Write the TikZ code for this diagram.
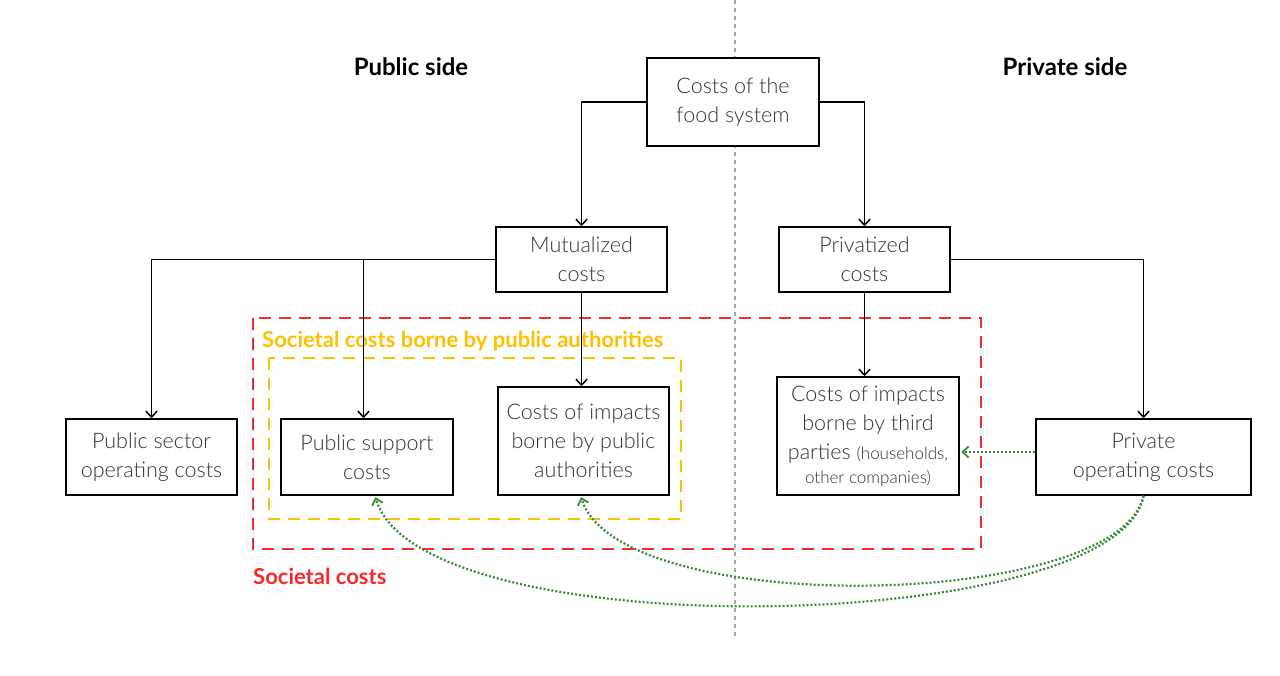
\documentclass[tikz,border=0pt]{standalone}
\usepackage{fontspec}
\setmainfont{Lato}[UprightFont={* Light},BoldFont={* Bold}]
\usetikzlibrary{arrows.meta}
\definecolor{txtgray}{HTML}{333333}
\definecolor{redd}{HTML}{F52A2A}
\definecolor{yell}{HTML}{FFC000}
\definecolor{grn}{HTML}{3A8A3A}
\begin{document}
\begin{tikzpicture}[x=1pt,y=-1pt,
  box/.style={draw=black, line width=1.4pt, inner sep=0pt, align=center,
    font=\fontsize{21.5}{29}\selectfont, text=txtgray},
  conn/.style={line width=1.5pt, -{Straight Barb[length=6pt,width=11pt]}},
  gconn/.style={draw=grn, line width=2.2pt, dash pattern=on 2pt off 2pt,
    -{Straight Barb[length=6pt,width=11pt,line width=1.8pt,sep]}},
  side/.style={font=\fontsize{24}{28}\selectfont\bfseries, text=black},
  zone/.style={line width=2pt, dash pattern=on 12pt off 8pt}]
\useasboundingbox (0,0) rectangle (1280,676);
\fill[white] (0,0) rectangle (1280,676);
% divider
\draw[gray!70, line width=1.8pt, dash pattern=on 4pt off 4pt] (735,0) coordinate (dtop) -- (735,640) coordinate (dbot);
% titles
\node[side] (pubside) at (411,67) {Public side};
\node[side] (privside) at (1065,67) {Private side};
% boxes
\node[box, minimum width=172pt, minimum height=88pt, fill=white] (top) at (733,102) {Costs of the\\food system};
\node[box, minimum width=171pt, minimum height=65pt, fill=white] (mut) at (581.5,259.5) {Mutualized\\costs};
\node[box, minimum width=171pt, minimum height=65pt, fill=white] (priv) at (864.5,259.5) {Privatized\\costs};
\node[box, minimum width=171pt, minimum height=76pt] (pso) at (151.5,457) {Public sector\\operating costs};
\node[box, minimum width=172pt, minimum height=76pt] (psc) at (367,457) {Public support\\costs};
\node[box, minimum width=171pt, minimum height=108pt] (cia) at (583.5,441) {Costs of impacts\\borne by public\\authorities};
\node[box, minimum width=182pt, minimum height=118pt, fill=white] (tp) at (868,436) {Costs of impacts\\borne by third\\parties {\fontsize{17}{20}\selectfont(households,}\\[-5pt]{\fontsize{17}{20}\selectfont other companies)}};
\node[box, minimum width=215pt, minimum height=76pt] (poc) at (1143.5,457) {Private\\operating costs};
% zones
\draw[redd, zone] (253,318) rectangle (981,549);
\draw[yell, zone] (269,358) rectangle (681,519);
\node[anchor=west, inner sep=0pt, font=\fontsize{22}{26}\selectfont\bfseries, text=yell] (ylab) at (262,341) {Societal costs borne by public authorities};
\node[anchor=west, inner sep=0pt, font=\fontsize{22}{26}\selectfont\bfseries, text=redd] (rlab) at (253,576) {Societal costs};
% connectors
\draw[conn] (top.west) -| (mut.north);
\draw[conn] (top.east) -| (priv.north);
\draw[conn] (mut.west) -| (pso.north);
\draw[conn] ([xshift=-3.5pt]mut.west -| psc.north) -- ([xshift=-3.5pt]psc.north);
\draw[conn] (mut.south) -- (mut.south |- cia.north);
\draw[conn] (priv.south) -- (priv.south |- tp.north);
\draw[conn] (priv.east) -| (poc.north);
% green
\coordinate (g1) at ([yshift=5pt]poc.west);
\draw[gconn] (g1) -- (g1 -| tp.east);
\draw[gconn] (poc.south) .. controls (1120,635) and (420,650) .. ([xshift=8pt]psc.south);
\draw[gconn] (poc.south) .. controls (1120,610) and (620,620) .. ([xshift=-3pt]cia.south);
\end{tikzpicture}
\end{document}
